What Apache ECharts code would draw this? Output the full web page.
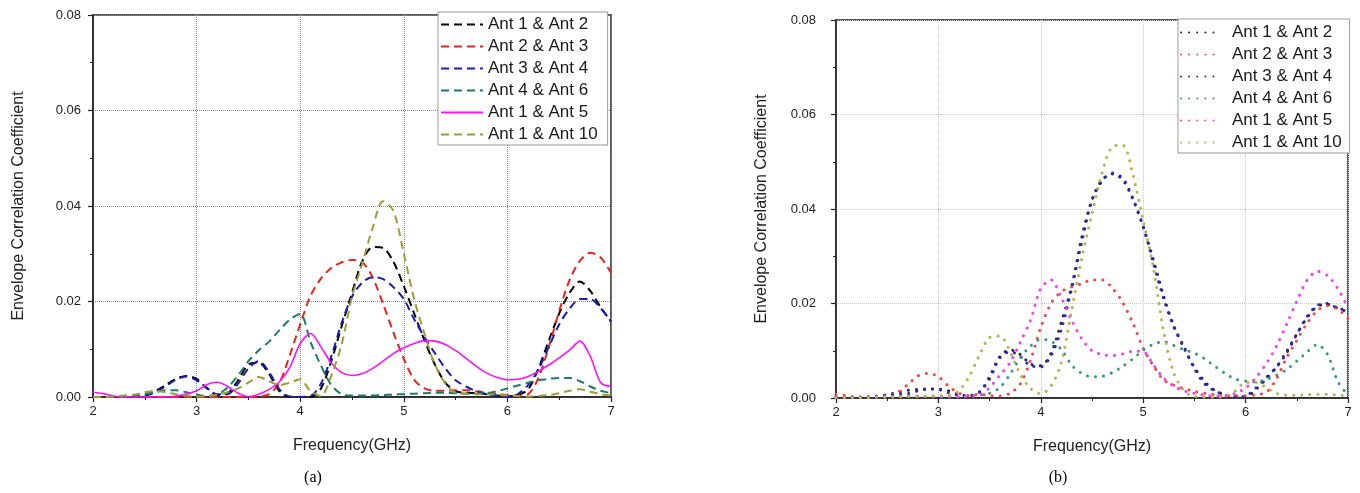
<!DOCTYPE html>
<html><head><meta charset="utf-8">
<script src="https://cdn.jsdelivr.net/npm/echarts@6/dist/echarts.min.js"></script>
<style>html,body{margin:0;padding:0;background:#fff}#c{width:1360px;height:493px}</style>
</head><body><div id="c"></div>
<script>
const freq = [2.0,2.1,2.2,2.3,2.4,2.5,2.6,2.7,2.8,2.9,3.0,3.1,3.2,3.3,3.4,3.5,3.6,3.7,3.8,3.9,4.0,4.1,4.2,4.3,4.4,4.5,4.6,4.7,4.8,4.9,5.0,5.1,5.2,5.3,5.4,5.5,5.6,5.7,5.8,5.9,6.0,6.1,6.2,6.3,6.4,6.5,6.6,6.7,6.8,6.9,7.0];
const names = ['Ant 1 & Ant 2','Ant 2 & Ant 3','Ant 3 & Ant 4','Ant 4 & Ant 6','Ant 1 & Ant 5','Ant 1 & Ant 10'];
const xTicks = [2,3,4,5,6,7];
const yTicks = [0.00,0.02,0.04,0.06,0.08];
const xTitle = 'Frequency(GHz)';
const yTitle = 'Envelope Correlation Coefficient';
const captions = ['(a)','(b)'];

// (a)
const a12 = [0,0,0,0,0.0001,0.0003,0.0012,0.0025,0.0038,0.0044, 0.0038,0.0018,0.0004,0.0008,0.0035,0.0068,0.0072,0.0048,0.0012,0, 0,0,0.0018,0.0075,0.0148,0.0218,0.0285,0.0314,0.0312,0.0283, 0.0232,0.0175,0.0118,0.0068,0.003,0.0012,0.0009,0.0008,0.0006,0.0003, 0.0001,0.0004,0.0016,0.006,0.0118,0.0175,0.0218,0.0242,0.0222,0.0188, 0.0158];
const a23 = [0,0,0,0,0,0,0,0,0,0, 0,0,0,0,0,0,0.0001,0.0006,0.003,0.0088, 0.0152,0.0212,0.0248,0.027,0.0282,0.0287,0.0282,0.025,0.0195,0.0135, 0.008,0.0036,0.0018,0.0013,0.0013,0.0014,0.0014,0.0012,0.0009,0.0006, 0.0004,0.0003,0.0006,0.004,0.0105,0.018,0.0245,0.0285,0.0302,0.0292, 0.026];
const a34 = [0,0,0,0,0.0001,0.0003,0.001,0.0022,0.0036,0.0043, 0.0035,0.0019,0.0006,0.0006,0.0028,0.006,0.0075,0.0052,0.0016,0.0001, 0,0.0002,0.0028,0.0085,0.0155,0.021,0.024,0.0251,0.0247,0.023, 0.0205,0.0163,0.0125,0.0092,0.006,0.0035,0.0022,0.0012,0.0006,0.0002, 0,0.0006,0.0025,0.0058,0.0105,0.0152,0.0185,0.0205,0.0205,0.0186, 0.0158];
const a46 = [0,0,0,0.0001,0.0003,0.0006,0.001,0.0014,0.0014,0.001, 0.0005,0.0002,0.0005,0.002,0.0045,0.0075,0.0098,0.0116,0.014,0.0162, 0.0174,0.0115,0.0066,0.0025,0.0006,0.0003,0.0003,0.0003,0.0004,0.0005, 0.0006,0.0007,0.0008,0.0009,0.0009,0.0008,0.0007,0.0007,0.0008,0.0012, 0.0018,0.0024,0.003,0.0035,0.0038,0.004,0.004,0.0033,0.0022,0.0013, 0.0008];
const a15 = [0.001,0.0007,0.0002,0,0,0,0,0,0.0002,0.0006, 0.0013,0.0026,0.0031,0.0022,0.0008,0.0001,0.0006,0.0016,0.0032,0.0062, 0.0112,0.0133,0.0105,0.0071,0.0051,0.0045,0.0049,0.006,0.0075,0.0091, 0.0103,0.0112,0.0118,0.0117,0.011,0.0097,0.0081,0.0064,0.005,0.0041, 0.0036,0.0037,0.0043,0.0054,0.0067,0.0082,0.0098,0.0117,0.0085,0.003, 0.0022];
const a110 = [0,0,0.0001,0.0003,0.0005,0.001,0.0013,0.001,0.0006,0.0003, 0.0001,0.0002,0.0005,0.001,0.0018,0.003,0.0042,0.0033,0.0025,0.003, 0.0037,0.0012,0.0002,0.0045,0.011,0.021,0.028,0.0355,0.041,0.039, 0.030,0.0205,0.0132,0.0068,0.0028,0.0009,0.0007,0.0006,0.0006,0.0005, 0.0003,0.0002,0.0001,0.0002,0.0004,0.0008,0.0013,0.0016,0.0011,0.0006, 0.0003];

// (b)
const b12 = [0.0002,0.0002,0.0002,0.0002,0.0004,0.0007,0.0012,0.0016,0.0018,0.0019, 0.0019,0.0015,0.0008,0.0004,0.0012,0.0045,0.0088,0.0102,0.0092,0.0072, 0.0068,0.0095,0.016,0.0235,0.034,0.042,0.0462,0.0474,0.0462,0.042, 0.0362,0.0292,0.0215,0.0152,0.0105,0.0065,0.0035,0.0016,0.0007,0.0003, 0.0003,0.0018,0.004,0.0065,0.0098,0.0135,0.017,0.0194,0.0198,0.019, 0.0182];
const b23 = [0.0008,0.0005,0.0002,0.0002,0.0003,0.0005,0.0012,0.0028,0.0047,0.0052, 0.0045,0.0025,0.001,0.0005,0.0008,0.0005,0.0004,0.001,0.003,0.008, 0.015,0.02,0.0225,0.0235,0.0242,0.025,0.025,0.0232,0.0202,0.0158, 0.0105,0.0068,0.0038,0.0027,0.002,0.0014,0.001,0.0007,0.0005,0.0005, 0.0005,0.0007,0.0012,0.004,0.0085,0.0122,0.0158,0.0185,0.0195,0.0188, 0.0168];
const b34 = [0.0001,0.0001,0.0001,0.0002,0.0003,0.0005,0.0008,0.0009,0.0015,0.0019, 0.0018,0.0011,0.0006,0.0005,0.0013,0.004,0.0085,0.0098,0.0088,0.0068, 0.0066,0.009,0.0145,0.023,0.033,0.0418,0.046,0.0476,0.0465,0.0422, 0.0363,0.0285,0.021,0.015,0.0108,0.0062,0.003,0.0015,0.0006,0.0002, 0.0004,0.0021,0.0043,0.0065,0.0095,0.0135,0.0172,0.0196,0.02,0.019, 0.0186];
const b46 = [0.0001,0.0001,0.0001,0.0001,0.0002,0.0003,0.0004,0.0004,0.0004,0.0003, 0.0002,0.0002,0.0003,0.0004,0.0006,0.001,0.0022,0.005,0.0085,0.011, 0.0124,0.012,0.0103,0.007,0.0052,0.0045,0.0046,0.0054,0.0067,0.0083, 0.0101,0.0114,0.0119,0.0111,0.0102,0.0095,0.0083,0.0067,0.0052,0.004, 0.0036,0.0034,0.0039,0.0048,0.006,0.0078,0.0097,0.0113,0.0092,0.0035, 0.0006];
const b15 = [0.0001,0.0001,0.0001,0.0001,0.0002,0.0002,0.0003,0.0003,0.0003,0.0003, 0.0003,0.0003,0.0003,0.0003,0.0006,0.0022,0.0048,0.0075,0.0118,0.0165, 0.0232,0.025,0.0212,0.0165,0.0125,0.01,0.0092,0.009,0.0093,0.0099, 0.0098,0.007,0.0042,0.0025,0.0015,0.001,0.0006,0.0004,0.0004,0.001, 0.0021,0.0043,0.0072,0.0109,0.0156,0.0205,0.0249,0.0268,0.0259,0.0232, 0.019];
const b110 = [0.0001,0.0001,0.0001,0.0001,0.0002,0.0002,0.0002,0.0003,0.0003,0.0004, 0.0005,0.0006,0.0015,0.0045,0.009,0.0128,0.0131,0.0098,0.005,0.002, 0.0009,0.0025,0.0075,0.0185,0.0295,0.039,0.0478,0.0532,0.0535,0.0472, 0.0375,0.0275,0.014,0.0052,0.0015,0.0003,0.0002,0.0002,0.0004,0.0015, 0.0033,0.0033,0.0022,0.001,0.0006,0.0006,0.0007,0.0008,0.0008,0.0006, 0.0005];

const dataA = [a12,a23,a34,a46,a15,a110];
const dataB = [b12,b23,b34,b46,b15,b110];
const colA = ['#000000','#e8221e','#1c1cb8','#1f7a6c','#ff10ff','#9c9c3c'];
const colB = ['#2a2a3a','#f04a4a','#2a2ab8','#3a9a80','#f040f0','#b4b450'];
const FONT = 'Liberation Sans, Arial, sans-serif';

function xAx(gi, gridColor){
  return {type:'value', gridIndex:gi, min:xTicks[0], max:xTicks[xTicks.length-1], interval:1,
    axisLine:{lineStyle:{color:'#222',width:1.5}},
    axisTick:{length:5,lineStyle:{color:'#222',width:1.2}},
    minorTick:{show:true,splitNumber:2,length:3,lineStyle:{color:'#222',width:1}},
    axisLabel:{color:'#222',fontSize:13,margin:8,fontFamily:FONT},
    splitLine:{show:true,lineStyle:{type:'dotted',color:gridColor,width:1}},
    name:xTitle,nameLocation:'middle',nameGap:41,
    nameTextStyle:{fontSize:16,color:'#222',fontFamily:FONT}};
}
function yAx(gi, gridColor, margin, gap){
  return {type:'value', gridIndex:gi, min:yTicks[0], max:yTicks[yTicks.length-1], interval:0.02,
    axisLine:{lineStyle:{color:'#222',width:1.5}},
    axisTick:{length:5,lineStyle:{color:'#222',width:1.2}},
    minorTick:{show:true,splitNumber:2,length:3,lineStyle:{color:'#222',width:1}},
    axisLabel:{color:'#222',fontSize:13,margin:margin,fontFamily:FONT,formatter:v=>v.toFixed(2)},
    splitLine:{show:true,lineStyle:{type:'dotted',color:gridColor,width:1}},
    name:yTitle,nameLocation:'middle',nameGap:gap,
    nameTextStyle:{fontSize:16,color:'#222',fontFamily:FONT}};
}

const series = [];
names.forEach((n,k)=>{
  series.push({type:'line',name:n,xAxisIndex:0,yAxisIndex:0,
    data:freq.map((f,i)=>[f,dataA[k][i]]),smooth:0.3,symbol:'none',
    itemStyle:{color:colA[k]},
    lineStyle:{color:colA[k],width:k===4?1.6:2,type:k===4?'solid':[8,5]}});
});
names.forEach((n,k)=>{
  series.push({type:'line',name:n+' ',xAxisIndex:1,yAxisIndex:1,
    data:freq.map((f,i)=>[f,dataB[k][i]]),smooth:0.3,symbol:'none',
    itemStyle:{color:colB[k]},
    lineStyle:{color:colB[k],width:3,type:[0.1,8],cap:'round'}});
});

function legend(left, top, data, iw, pad, tpad){
  return {orient:'vertical',left:left,top:top,data:data,
    backgroundColor:'#fff',borderColor:'#999',borderWidth:1,padding:pad,
    itemWidth:iw,itemHeight:14,itemGap:5,selectedMode:false,
    itemStyle:{opacity:0,borderWidth:0,color:'rgba(0,0,0,0)'},
    formatter:n=>n.trim(),
    textStyle:{fontSize:17,color:'#1a1a1a',fontFamily:FONT,padding:tpad}};
}

const option = {
  animation:false,
  backgroundColor:'#fff',
  grid:[
    {left:93,top:15,width:518,height:382,show:true,borderColor:'#222',borderWidth:1.5},
    {left:836,top:20,width:512,height:378,show:true,borderColor:'#222',borderWidth:1.5}
  ],
  xAxis:[xAx(0,'#8a8a8a'),xAx(1,'#c8c8c8')],
  yAxis:[yAx(0,'#8a8a8a',12,66),yAx(1,'#c8c8c8',20,66)],
  legend:[legend(438,12,names,42,[4,10,2,2],[0,0,0,0]), legend(1178,19,names.map(n=>n+' '),38,[5,8,2,2],[0,0,0,8])],
  series:series,
  graphic:[
    {type:'text',x:313,y:478,style:{text:captions[0],fontFamily:'Liberation Serif, Times New Roman, serif',fontSize:16,fill:'#000',textAlign:'center',textVerticalAlign:'middle'}},
    {type:'text',x:1058,y:478,style:{text:captions[1],fontFamily:'Liberation Serif, Times New Roman, serif',fontSize:16,fill:'#000',textAlign:'center',textVerticalAlign:'middle'}}
  ]
};
const chart = echarts.init(document.getElementById('c'));
chart.setOption(option);
</script></body></html>
